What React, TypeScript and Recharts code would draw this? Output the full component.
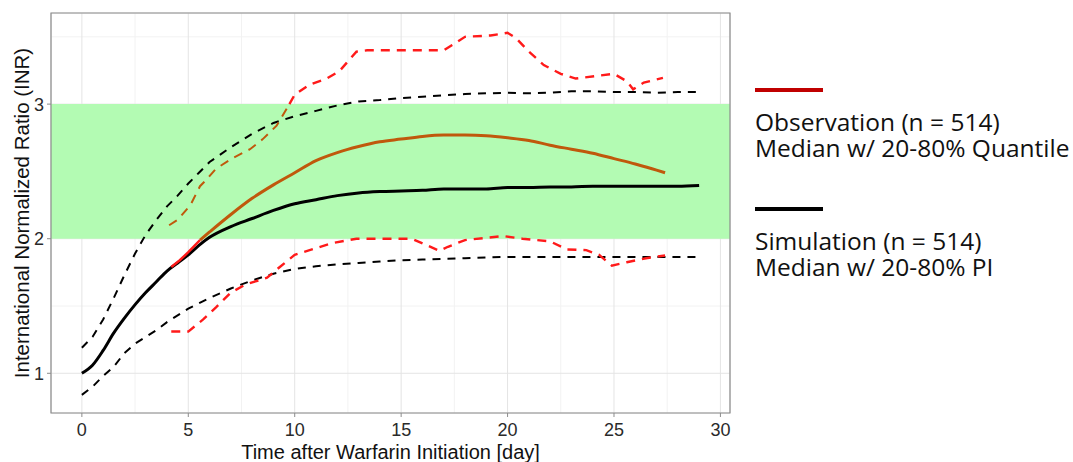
import { ComposedChart, Line, XAxis, YAxis, CartesianGrid, ReferenceArea } from "recharts"

const simDays = [0, 0.5, 1, 1.5, 2, 2.5, 3, 3.5, 4, 4.5, 5, 5.5, 6, 7, 8, 9, 10, 11, 12, 13, 14, 15, 16, 17, 18, 19, 20, 21, 22, 23, 24, 25, 26, 27, 28, 29]
const simMedian = [1.0, 1.06, 1.17, 1.3, 1.41, 1.51, 1.6, 1.68, 1.76, 1.82, 1.88, 1.95, 2.01, 2.09, 2.15, 2.21, 2.26, 2.29, 2.32, 2.34, 2.35, 2.355, 2.36, 2.37, 2.37, 2.37, 2.38, 2.38, 2.385, 2.385, 2.39, 2.39, 2.39, 2.39, 2.39, 2.395]
const simLower = [0.84, 0.9, 0.98, 1.05, 1.15, 1.22, 1.27, 1.32, 1.38, 1.43, 1.48, 1.52, 1.56, 1.63, 1.69, 1.74, 1.775, 1.795, 1.81, 1.82, 1.83, 1.84, 1.845, 1.85, 1.855, 1.86, 1.865, 1.865, 1.865, 1.865, 1.865, 1.865, 1.865, 1.865, 1.865, 1.865]
const simUpper = [1.19, 1.27, 1.4, 1.56, 1.73, 1.89, 2.03, 2.14, 2.24, 2.32, 2.41, 2.49, 2.57, 2.68, 2.78, 2.86, 2.91, 2.95, 2.99, 3.02, 3.03, 3.045, 3.055, 3.065, 3.075, 3.08, 3.085, 3.08, 3.085, 3.095, 3.095, 3.09, 3.09, 3.085, 3.09, 3.09]

const obsMedEarlyDays = [4.2, 4.6, 5, 5.55]
const obsMedEarly = [1.79, 1.84, 1.9, 1.99]
const obsMedDays = [5.55, 6, 7, 8, 9, 10, 11, 12, 13, 14, 15, 16, 17, 18, 19, 20, 21, 22, 23, 24, 25, 26, 27, 27.4]
const obsMedian = [1.99, 2.05, 2.18, 2.3, 2.4, 2.49, 2.58, 2.64, 2.685, 2.72, 2.74, 2.76, 2.77, 2.77, 2.765, 2.75, 2.73, 2.695, 2.665, 2.635, 2.595, 2.555, 2.51, 2.49]

const obsLowDays = [4.2, 5, 5.7, 6.3, 7, 7.7, 8.7, 9.3, 10, 10.7, 11.7, 12.9, 15.5, 16.8, 17.2, 18, 19.8, 20.7, 22, 22.8, 23.7, 24.3, 24.9, 25.6, 26.5, 27.4]
const obsLower = [1.31, 1.31, 1.4, 1.49, 1.6, 1.66, 1.71, 1.79, 1.88, 1.915, 1.965, 2.0, 2.0, 1.91, 1.94, 1.99, 2.02, 2.0, 1.98, 1.92, 1.915, 1.88, 1.8, 1.825, 1.855, 1.875]

const obsUpEarlyDays = [4.1, 4.5, 5.1, 5.55, 5.8, 6.3, 7.1, 7.9, 8.5, 9.15, 9.75]
const obsUpEarly = [2.1, 2.14, 2.25, 2.39, 2.43, 2.52, 2.6, 2.665, 2.74, 2.84, 3.0]
const obsUpDays = [9.75, 10, 10.7, 11.5, 12.1, 12.9, 13.4, 17, 17.4, 18, 19.2, 20, 20.4, 21, 21.7, 22.5, 23.2, 24.2, 25, 25.6, 25.9, 26.4, 27.3]
const obsUpper = [3.0, 3.07, 3.145, 3.19, 3.245, 3.39, 3.4, 3.4, 3.44, 3.5, 3.51, 3.53, 3.49, 3.39, 3.29, 3.225, 3.19, 3.21, 3.225, 3.17, 3.11, 3.16, 3.195]

const xTicks = [0, 5, 10, 15, 20, 25, 30]
const yTicks = [1, 2, 3]
const xMinor = [2.5, 7.5, 12.5, 17.5, 22.5, 27.5]
const yMinor = [1.5, 2.5, 3.5]

const rows = (xs: number[], ys: number[]) => xs.map((x, i) => ({ day: x, inr: ys[i] }))

const RED = "#ff1a1a"
const BROWN = "#c0580c"
const font = "Liberation Sans, Arial, sans-serif"
const legendFont = "Open Sans, sans-serif"

const legendText = { position: "absolute" as const, left: 755, fontFamily: legendFont, fontSize: 24.5, lineHeight: "25.5px", color: "#111", whiteSpace: "nowrap" as const }

export default function App() {
  return (
    <div style={{ position: "absolute", left: 0, top: 0, width: 1073, height: 462, background: "#fff" }}>
      <ComposedChart width={740} height={462} margin={{ top: 13, right: 10, bottom: 0, left: 0 }}>
        <CartesianGrid verticalValues={xMinor} horizontalValues={yMinor} stroke="#f2f2f2" />
        <CartesianGrid stroke="#e4e4e4" />
        <XAxis
          dataKey="day"
          type="number"
          domain={[-1.45, 30.45]}
          ticks={xTicks}
          allowDataOverflow
          height={49}
          tickSize={4}
          tickMargin={6}
          axisLine={false}
          tickLine={{ stroke: "#8c8c8c" }}
          tick={{ fill: "#2a2a2a", fontSize: 18, fontFamily: font }}
          label={{ value: "Time after Warfarin Initiation [day]", position: "insideBottom", offset: 3, fill: "#111", fontSize: 20, fontFamily: font }}
        />
        <YAxis
          type="number"
          domain={[0.705, 3.677]}
          ticks={yTicks}
          allowDataOverflow
          width={51}
          tickSize={4}
          tickMargin={3}
          axisLine={false}
          tickLine={{ stroke: "#8c8c8c" }}
          tick={{ fill: "#2a2a2a", fontSize: 18, fontFamily: font }}
          label={{ value: "International Normalized Ratio (INR)", angle: -90, position: "center", dx: -4, fill: "#111", fontSize: 20.5, fontFamily: font }}
        />
        <ReferenceArea y1={2} y2={3} fill="#b3fbb3" fillOpacity={1} stroke="none" />
        <ReferenceArea x1={-1.45} x2={30.45} y1={0.705} y2={3.677} fill="none" stroke="#8c8c8c" strokeWidth={1.2} />

        <Line data={rows(simDays, simLower)} dataKey="inr" type="linear" stroke="#000" strokeWidth={2} strokeDasharray="8 7" dot={false} isAnimationActive={false} />
        <Line data={rows(simDays, simUpper)} dataKey="inr" type="linear" stroke="#000" strokeWidth={2} strokeDasharray="8 7" dot={false} isAnimationActive={false} />
        <Line data={rows(simDays, simMedian)} dataKey="inr" type="monotone" stroke="#000" strokeWidth={3} dot={false} isAnimationActive={false} />

        <Line data={rows(obsLowDays, obsLower)} dataKey="inr" type="linear" stroke={RED} strokeWidth={2.4} strokeDasharray="9 7" dot={false} isAnimationActive={false} />
        <Line data={rows(obsUpEarlyDays, obsUpEarly)} dataKey="inr" type="linear" stroke={BROWN} strokeWidth={2} strokeDasharray="9 7" dot={false} isAnimationActive={false} />
        <Line data={rows(obsUpDays, obsUpper)} dataKey="inr" type="linear" stroke={RED} strokeWidth={2.4} strokeDasharray="9 7" dot={false} isAnimationActive={false} />
        <Line data={rows(obsMedDays, obsMedian)} dataKey="inr" type="monotone" stroke={BROWN} strokeWidth={3} dot={false} isAnimationActive={false} />
        <Line data={rows(obsMedEarlyDays, obsMedEarly)} dataKey="inr" type="linear" stroke={RED} strokeWidth={2.4} dot={false} isAnimationActive={false} />
      </ComposedChart>

      <div style={{ position: "absolute", left: 755, top: 88, width: 68, height: 4, background: "#c00000" }} />
      <div style={{ ...legendText, top: 109 }}>
        <div>Observation (n = 514)</div>
        <div>Median w/ 20-80% Quantile</div>
      </div>
      <div style={{ position: "absolute", left: 755, top: 207, width: 68, height: 4, background: "#000" }} />
      <div style={{ ...legendText, top: 228 }}>
        <div>Simulation (n = 514)</div>
        <div>Median w/ 20-80% PI</div>
      </div>
    </div>
  )
}
